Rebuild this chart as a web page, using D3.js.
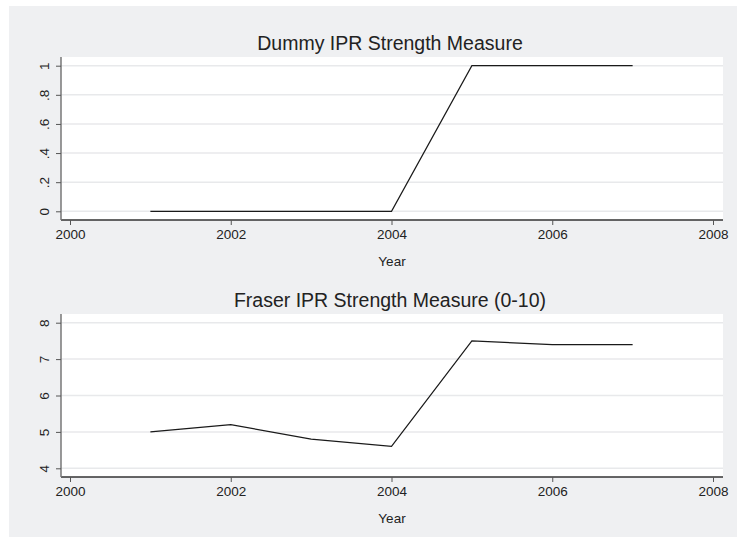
<html lang="en">
<head>
    <meta charset="UTF-8">
    <title>IPR Strength Measures</title>
    <script src="https://d3js.org/d3.v7.min.js"></script>
    <style>
        body { margin: 0; background: #ffffff; }
        text { font-family: "Liberation Sans", Arial, sans-serif; fill: #222; }
    </style>
</head>
<body>
    <div id="chart"></div>
    <script>
        var years = [2001, 2002, 2003, 2004, 2005, 2006, 2007];
        var dummyValues = [0, 0, 0, 0, 1, 1, 1];
        var fraserValues = [5.0, 5.2, 4.8, 4.6, 7.5, 7.4, 7.4];
        var xTicks = [2000, 2002, 2004, 2006, 2008];
        var dummyTicks = [0, 0.2, 0.4, 0.6, 0.8, 1];
        var fraserTicks = [4, 5, 6, 7, 8];
        var titles = ["Dummy IPR Strength Measure", "Fraser IPR Strength Measure (0-10)"];

        var width = 737, height = 538;
        var svg = d3.select("#chart").append("svg")
            .attr("width", width)
            .attr("height", height);

        svg.append("rect")
            .attr("x", 9).attr("y", 6)
            .attr("width", width - 9).attr("height", 531)
            .attr("fill", "#eff0f2");

        var xScale = d3.scaleLinear().domain([2000, 2008]).range([70, 713]);

        function tickFmt(d) {
            // stata style: .2 instead of 0.2
            return d3.format("")(d).replace(/^0\./, ".");
        }

        function drawPanel(offset, title, values, yDomain, yTicks) {
            var g = svg.append("g").attr("transform", "translate(0," + offset + ")");
            var yScale = d3.scaleLinear().domain(yDomain).range([211.3, 65.7]);

            g.append("rect")
                .attr("x", 61).attr("y", 57)
                .attr("width", 662).attr("height", 163)
                .attr("fill", "#ffffff");

            g.selectAll(".grid")
                .data(yTicks)
                .enter().append("line")
                .attr("class", "grid")
                .attr("x1", 61).attr("x2", 723)
                .attr("y1", function(d) { return yScale(d); })
                .attr("y2", function(d) { return yScale(d); })
                .attr("stroke", "#e8e9eb")
                .attr("stroke-width", 1.5);

            var line = d3.line()
                .x(function(d, i) { return xScale(years[i]); })
                .y(function(d) { return yScale(d); });

            g.append("path")
                .datum(values)
                .attr("d", line)
                .attr("fill", "none")
                .attr("stroke", "#1a1a1a")
                .attr("stroke-width", 1.2);

            var xAxis = g.append("g")
                .attr("transform", "translate(0,220)")
                .call(d3.axisBottom(xScale).tickValues(xTicks).tickFormat(d3.format("d")).tickSize(5).tickPadding(4));
            xAxis.select(".domain").attr("d", "M61,0H723").attr("stroke", "#333").attr("stroke-width", 1.3);
            xAxis.selectAll(".tick line").attr("stroke", "#555");
            xAxis.selectAll("text").style("font-size", "13.5px").attr("fill", "#222");

            var yAxis = g.append("g")
                .attr("transform", "translate(61,0)")
                .call(d3.axisLeft(yScale).tickValues(yTicks).tickFormat(tickFmt).tickSize(5));
            yAxis.select(".domain").attr("d", "M0,57V220").attr("stroke", "#777").attr("stroke-width", 1.5);
            yAxis.selectAll(".tick line").attr("stroke", "#555");
            yAxis.selectAll("text")
                .attr("x", 0).attr("y", -12).attr("dy", 0)
                .attr("transform", "rotate(-90)")
                .style("text-anchor", "middle")
                .style("font-size", "13.5px")
                .attr("fill", "#222");

            g.append("text")
                .attr("x", 392).attr("y", 266)
                .attr("text-anchor", "middle")
                .style("font-size", "13.5px")
                .text("Year");

            g.append("text")
                .attr("x", 390).attr("y", 50)
                .attr("text-anchor", "middle")
                .style("font-size", "19.5px")
                .text(title);
        }

        drawPanel(0, titles[0], dummyValues, [0, 1], dummyTicks);
        drawPanel(257, titles[1], fraserValues, [4, 8], fraserTicks);
    </script>
</body>
</html>
